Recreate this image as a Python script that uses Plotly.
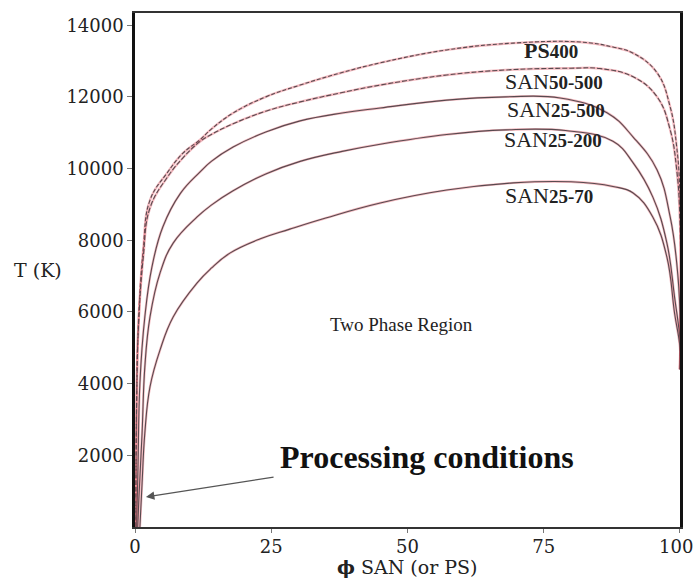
import plotly.graph_objects as go

# Phase-boundary (binodal) curves: composition phi (%) vs temperature T (K)
ps400_phi = [0.15, 0.3, 0.55, 1.5, 2.75, 5.9, 8.8, 11.9, 14, 18, 24, 30.3, 38, 45, 57.2, 69.4, 81.7, 87.7, 91.4, 95.8, 98.2, 99.4, 100, 100]
ps400_T = [0, 3500, 5400, 7730, 9120, 9880, 10430, 10800, 11100, 11550, 12000, 12330, 12680, 12950, 13310, 13500, 13530, 13390, 13220, 12670, 11720, 10600, 9200, 4400]

san50_500_phi = [0.15, 0.35, 0.7, 1.5, 2.75, 5.9, 8.8, 11.9, 14, 18, 24, 30.3, 38, 45, 57.2, 68, 80, 85.3, 91.4, 95.8, 98.2, 99.4, 100, 100]
san50_500_T = [0, 4000, 5800, 7500, 8900, 9750, 10300, 10750, 10950, 11250, 11600, 11860, 12120, 12330, 12610, 12750, 12800, 12790, 12560, 12000, 11080, 9960, 8500, 4400]

san25_500_phi = [0.3, 0.55, 0.9, 1.8, 3.1, 5.1, 8.3, 11.9, 14, 18, 24, 30.3, 38, 45, 57.2, 68, 78, 86.6, 91.4, 95.8, 98.2, 99.4, 100, 100]
san25_500_T = [0, 1670, 4020, 5860, 7250, 8370, 9300, 9900, 10200, 10600, 11020, 11330, 11550, 11690, 11910, 12000, 11970, 11560, 10880, 9960, 8650, 7370, 6000, 4400]

san25_200_phi = [0.5, 0.7, 1.3, 1.8, 2.75, 4.6, 7, 11.4, 14, 18, 24, 30.3, 38, 45, 57.2, 68, 79, 87.7, 91.4, 95, 97.6, 99, 100, 100]
san25_200_T = [0, 750, 2620, 4460, 5860, 7090, 7920, 8650, 8980, 9380, 9850, 10200, 10480, 10680, 10950, 11080, 11060, 10760, 10160, 9210, 7920, 6420, 5200, 4400]

san25_70_phi = [0.9, 1.3, 1.8, 2.75, 4.6, 7, 11.4, 14, 17.4, 23, 28.4, 35, 45, 57.2, 69.4, 80, 87.7, 91.4, 95, 97.6, 99, 100, 100]
san25_70_T = [0, 1230, 2620, 3910, 4940, 5860, 6810, 7220, 7640, 8040, 8310, 8620, 9040, 9400, 9600, 9630, 9500, 9320, 8650, 7530, 5970, 5000, 4400]

# Curve labels: polymer prefix, suffix, anchor position
label_prefix = ["PS", "SAN", "SAN", "SAN", "SAN"]
label_suffix = ["400", "50-500", "25-500", "25-200", "25-70"]
label_phi = [71.0, 67.5, 67.8, 67.3, 67.5]
label_T = [13300, 12420, 11640, 10800, 9240]

x_ticks = [0, 25, 50, 75, 100]
y_ticks = [2000, 4000, 6000, 8000, 10000, 12000, 14000]

curves = [
    (ps400_phi, ps400_T, "4px,2px"),
    (san50_500_phi, san50_500_T, "5px,2px"),
    (san25_500_phi, san25_500_T, "solid"),
    (san25_200_phi, san25_200_T, "solid"),
    (san25_70_phi, san25_70_T, "solid"),
]

tick_font = dict(family="DejaVu Serif", size=18, color="#222222")

fig = go.Figure()
for phi, T, dash in curves:
    # faint red underlay
    fig.add_trace(go.Scatter(x=phi, y=T, mode="lines",
                             line=dict(color="rgba(225,80,95,0.4)", width=2.4,
                                       shape="spline", smoothing=1.2),
                             hoverinfo="skip"))
    # dark curve on top
    fig.add_trace(go.Scatter(x=phi, y=T, mode="lines",
                             line=dict(color="#584a4f", width=1.1, dash=dash,
                                       shape="spline", smoothing=1.2)))

annotations = []
for pre, suf, px, ty in zip(label_prefix, label_suffix, label_phi, label_T):
    pre_txt = "<b>PS</b>" if pre == "PS" else pre
    annotations.append(dict(
        x=px, y=ty, xref="x", yref="y", xanchor="left", yanchor="middle",
        text=pre_txt + "<span style='font-size:19px'><b>" + suf + "</b></span>",
        showarrow=False,
        font=dict(family="Liberation Serif", size=22, color="#222222"),
    ))

annotations.append(dict(
    x=35.5, y=5640, xref="x", yref="y", xanchor="left", yanchor="middle",
    text="Two Phase Region", showarrow=False,
    font=dict(family="Liberation Serif", size=19, color="#222222"),
))

annotations.append(dict(
    x=26.3, y=1950, xref="x", yref="y", xanchor="left", yanchor="middle",
    text="<b>Processing conditions</b>", showarrow=False,
    font=dict(family="Liberation Serif", size=32, color="#111111"),
))

# arrow pointing at the processing conditions near phi = 0
annotations.append(dict(
    x=2.0, y=840, xref="x", yref="y",
    ax=25.7, ay=1400, axref="x", ayref="y",
    text="", showarrow=True, arrowhead=2, arrowsize=1.3, arrowwidth=1.3,
    arrowcolor="#555555",
))

# last x tick label, nudged left so it stays inside the page
annotations.append(dict(
    x=x_ticks[-1], y=-0.037, xref="x", yref="paper", xanchor="center", yanchor="middle",
    xshift=-4, text=str(x_ticks[-1]), showarrow=False, font=tick_font,
))

annotations.append(dict(
    x=-0.225, y=0.5, xref="paper", yref="paper", xanchor="left", yanchor="middle",
    text="T (K)", showarrow=False,
    font=dict(family="DejaVu Serif", size=19, color="#222222"),
))

annotations.append(dict(
    x=0.5, y=-0.077, xref="paper", yref="paper", xanchor="center", yanchor="middle",
    text="<b>ϕ</b> SAN (or PS)", showarrow=False,
    font=dict(family="DejaVu Serif", size=19, color="#222222"),
))

fig.update_layout(
    width=695, height=581,
    margin=dict(l=135, r=15, t=13, b=54, autoexpand=False),
    paper_bgcolor="white", plot_bgcolor="white",
    showlegend=False,
    annotations=annotations,
    xaxis=dict(range=[-0.001, 100.001], tickvals=x_ticks,
               ticktext=[str(v) for v in x_ticks[:-1]] + [""],
               showgrid=False, zeroline=False, showline=True, linecolor="#333333",
               linewidth=2, mirror=True, ticks="outside", ticklen=4, tickcolor="#777777",
               ticklabelstandoff=-2, automargin=False, tickfont=tick_font),
    yaxis=dict(range=[0, 14340], tickvals=y_ticks, ticktext=[str(v) for v in y_ticks],
               showgrid=False, zeroline=False, showline=True, linecolor="#111111",
               linewidth=2.5, mirror=True, ticks="outside", ticklen=5, tickcolor="#777777",
               automargin=False, tickfont=tick_font),
)

fig.write_html("out.html")
